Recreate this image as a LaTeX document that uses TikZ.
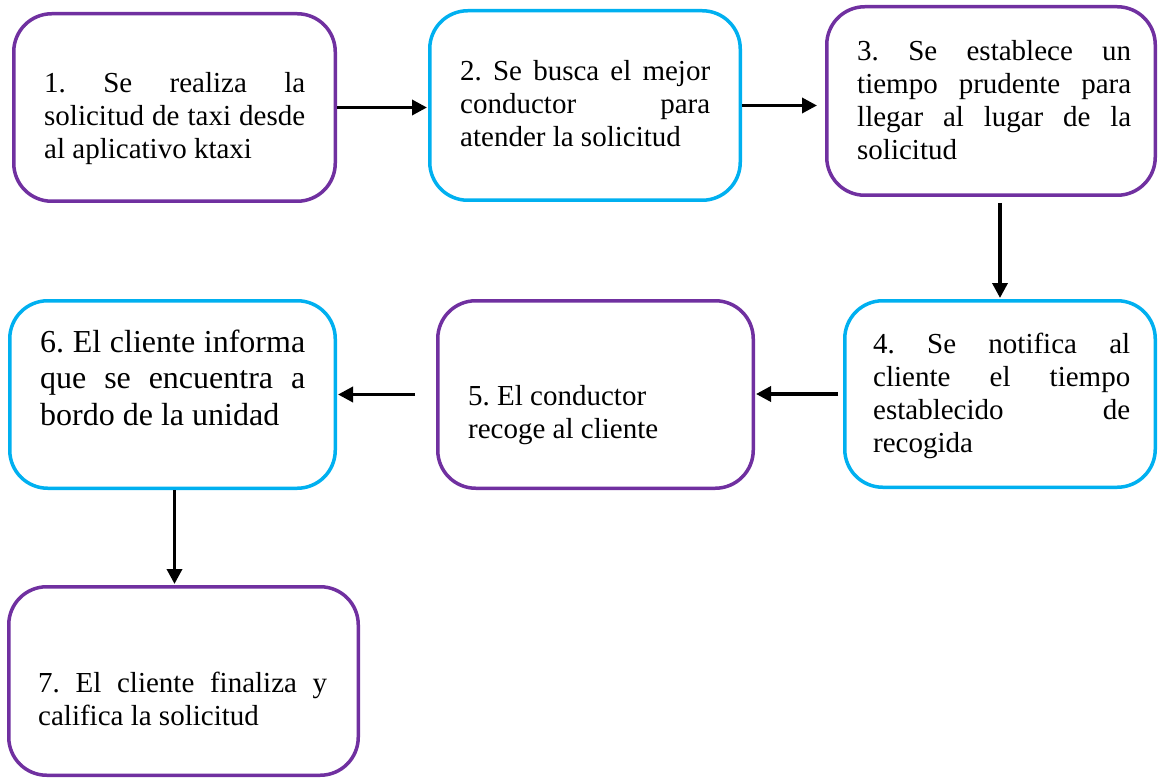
\documentclass[tikz,border=0pt]{standalone}
\usepackage{fontspec}
\setmainfont{Liberation Serif}
\usetikzlibrary{arrows.meta}
\definecolor{morado}{HTML}{7030A0}
\definecolor{celeste}{HTML}{00B0F0}

\begin{document}
\begin{tikzpicture}[x=1pt,y=-1pt,
    caja/.style={draw=#1,line width=3.5pt,rounded corners=38pt,fill=white},
    texto/.style={anchor=base west,inner sep=0pt,text width=#1,align=justify,
      execute at begin node={\spaceskip=.25em plus 150pt minus 1pt\xspaceskip=\spaceskip
        \tolerance=10000\hbadness=10000\hyphenpenalty=10000},
      font=\fontsize{29}{33}\selectfont},
    flecha/.style={-{Triangle[length=15pt,width=15pt]},line width=3.5pt,shorten >=1pt}]
  \useasboundingbox (0,0) rectangle (1159,778);

  \node[caja=morado,minimum width=321.5pt,minimum height=187.5pt]  (b1) at (174.5,107.5) {};
  \node[caja=celeste,minimum width=310.5pt,minimum height=189.5pt] (b2) at (585,105.5) {};
  \node[caja=morado,minimum width=328.5pt,minimum height=188.5pt]  (b3) at (991,101) {};
  \node[caja=celeste,minimum width=310.5pt,minimum height=186.5pt] (b4) at (1000,394) {};
  \node[caja=morado,minimum width=315.5pt,minimum height=187.5pt]  (b5) at (595.5,394.5) {};
  \node[caja=celeste,minimum width=325.5pt,minimum height=187.5pt] (b6) at (172.5,394.5) {};
  \node[caja=morado,minimum width=349.5pt,minimum height=188.5pt]  (b7) at (183.5,681) {};

  \node[texto=261pt] (t1) at (44,93)
    {1. Se realiza la\linebreak solicitud de taxi desde\linebreak al aplicativo ktaxi};
  \node[texto=250pt] (t2) at (460,81)
    {2. Se busca el mejor\linebreak conductor para\linebreak atender la solicitud};
  \node[texto=274pt] (t3) at (857,61)
    {3. Se establece un\linebreak tiempo prudente para\linebreak llegar al lugar de la\linebreak solicitud};
  \node[texto=257pt] (t4) at (873,353)
    {4. Se notifica al\linebreak cliente el tiempo\linebreak establecido de\linebreak recogida};
  \node[texto=250pt] (t5) at (468,405)
    {5. El conductor\\recoge al cliente};
  \node[texto=265pt,font=\fontsize{32}{36.5}\selectfont] (t6) at (40,352)
    {6. El cliente informa\linebreak que se encuentra a\linebreak bordo de la unidad};
  \node[texto=289pt] (t7) at (38,692)
    {7. El cliente finaliza y\linebreak califica la solicitud};

  \path[flecha] (b1.east) edge (b1.east -| b2.west)
                (b2.east) edge [shorten >=8pt] (b2.east -| b3.west)
                (b3.south -| b4.north) edge [shorten <=6pt] (b4.north)
                (b4.west) edge [shorten <=5pt] (b4.west -| b5.east)
                (b5.west) edge [shorten <=21pt] (b5.west -| b6.east)
                ([xshift=2pt]b6.south) edge ([xshift=2pt]b6.south |- b7.north);
\end{tikzpicture}
\end{document}
